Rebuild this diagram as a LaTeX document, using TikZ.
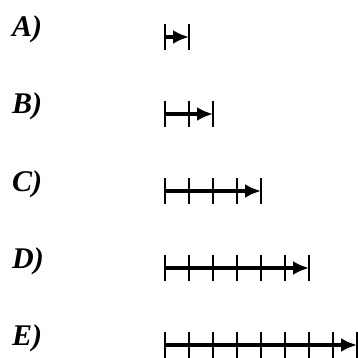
\documentclass[tikz,border=0pt]{standalone}
\usepackage{fontspec}
\setmainfont{Liberation Serif}
\usetikzlibrary{arrows.meta}

\begin{document}
\begin{tikzpicture}[x=1pt,y=-1pt,>={Latex[length=16pt,width=14pt]}]
      \useasboundingbox (0,0) rectangle (358,358);
      \foreach \lab/\n/\y in {A/1/37,B/2/114,C/4/191,D/6/268,E/8/345} {
        \node[anchor=base west,inner sep=0pt,font=\fontsize{30}{36}\selectfont\bfseries\itshape] (lab\lab) at (12,\y) {\lab)};
        \coordinate (\lab0) at (165,\y);
        \coordinate (\lab\n) at ({165+24*\n},\y);
        \draw[line width=3.5pt,->] (\lab0) -- (\lab\n);
        \foreach \k in {0,...,\n}
          \draw[line width=2.2pt] ({165+24*\k},\y-13) -- ({165+24*\k},\y+13);
      }
\end{tikzpicture}
\end{document}
